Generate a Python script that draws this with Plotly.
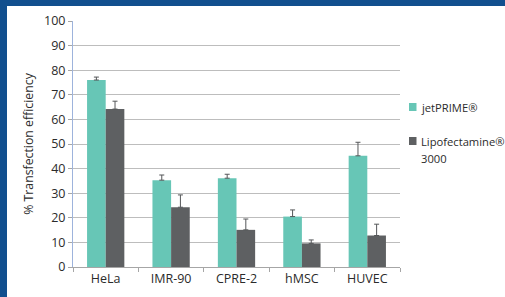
import plotly.graph_objects as go

categories = ["HeLa", "IMR-90", "CPRE-2", "hMSC", "HUVEC"]
jetprime = [76.0, 35.3, 36.1, 20.5, 45.2]
jetprime_err = [1.2, 2.1, 1.6, 2.7, 5.5]
lipo = [64.2, 24.3, 15.1, 9.6, 12.8]
lipo_err = [3.2, 5.0, 4.4, 1.4, 4.6]
y_ticks = [0, 10, 20, 30, 40, 50, 60, 70, 80, 90, 100]
series_names = ["jetPRIME®", "Lipofectamine® 3000"]
legend_lines = [["jetPRIME®"], ["Lipofectamine®", "3000"]]
series_colors = ["#67C6B6", "#5E6062"]

FONT = "Open Sans"
TXT = "#2B2B2B"
W, H = 505, 297
L, R, T, B = 73, 105, 21, 30
pw, ph = W - L - R, H - T - B

def px_x(x):
    return (x - L) / pw

def px_y(y):
    return (H - B - y) / ph

fig = go.Figure()
for name, vals, errs, col in [(series_names[0], jetprime, jetprime_err, series_colors[0]),
                              (series_names[1], lipo, lipo_err, series_colors[1])]:
    fig.add_trace(go.Bar(
        x=categories, y=vals, name=name,
        marker=dict(color=col, line=dict(width=0)),
        error_y=dict(type="data", array=errs, symmetric=False,
                     arrayminus=[0] * len(errs), color="#555759",
                     thickness=1, width=2.5),
        showlegend=False,
    ))

# legend drawn as text + swatches
legend_rows = [(legend_lines[0], series_colors[0], 107, [107]),
               (legend_lines[1], series_colors[1], 141, [141, 158])]
shapes = []
annotations = []
for lines, col, ysq, ytxts in legend_rows:
    shapes.append(dict(type="rect", xref="paper", yref="paper",
                       x0=px_x(409), x1=px_x(416.5), y0=px_y(ysq + 4), y1=px_y(ysq - 4),
                       fillcolor=col, line=dict(width=0)))
    for line, yt in zip(lines, ytxts):
        annotations.append(dict(xref="paper", yref="paper", x=px_x(419), y=px_y(yt),
                                xanchor="left", yanchor="middle", align="left",
                                text=line, showarrow=False,
                                font=dict(family=FONT, size=11.2, color=TXT)))

shapes += [
    dict(type="rect", xref="paper", yref="paper",
         x0=px_x(0), x1=px_x(W), y0=px_y(0), y1=px_y(6),
         fillcolor="#114F8E", line=dict(width=0), layer="above"),
    dict(type="rect", xref="paper", yref="paper",
         x0=px_x(0), x1=px_x(7), y0=px_y(0), y1=px_y(H),
         fillcolor="#114F8E", line=dict(width=0), layer="above"),
]

fig.update_layout(
    width=W, height=H,
    margin=dict(l=L, r=R, t=T, b=B, pad=0, autoexpand=False),
    paper_bgcolor="white", plot_bgcolor="white",
    barmode="group", bargap=0.43, bargroupgap=0,
    font=dict(family=FONT, size=12, color=TXT),
    showlegend=False,
    xaxis=dict(showgrid=False, showline=True, linecolor="#A6A6A6", linewidth=1,
               ticks="outside", tickson="boundaries", ticklen=4, tickcolor="#A6A6A6",
               tickfont=dict(family=FONT, size=12.5, color=TXT),
               zeroline=False, automargin=False),
    yaxis=dict(range=[0, 100], tickvals=y_ticks, showgrid=True,
               gridcolor="#BDBDBD", gridwidth=1.2,
               showline=True, linecolor="#9DB3DC", linewidth=1,
               ticks="outside", ticklen=4, tickcolor="#A6A6A6",
               tickfont=dict(family=FONT, size=12.5, color=TXT),
               zeroline=False, automargin=False,
               title=dict(text="% Transfection efficiency",
                          font=dict(family=FONT, size=12.3, color=TXT),
                          standoff=7)),
    shapes=shapes,
    annotations=annotations,
)

fig.write_html(
    "out.html",
    config={"displayModeBar": False},
    post_script="document.body.style.margin='0';document.body.style.overflow='hidden';",
)
